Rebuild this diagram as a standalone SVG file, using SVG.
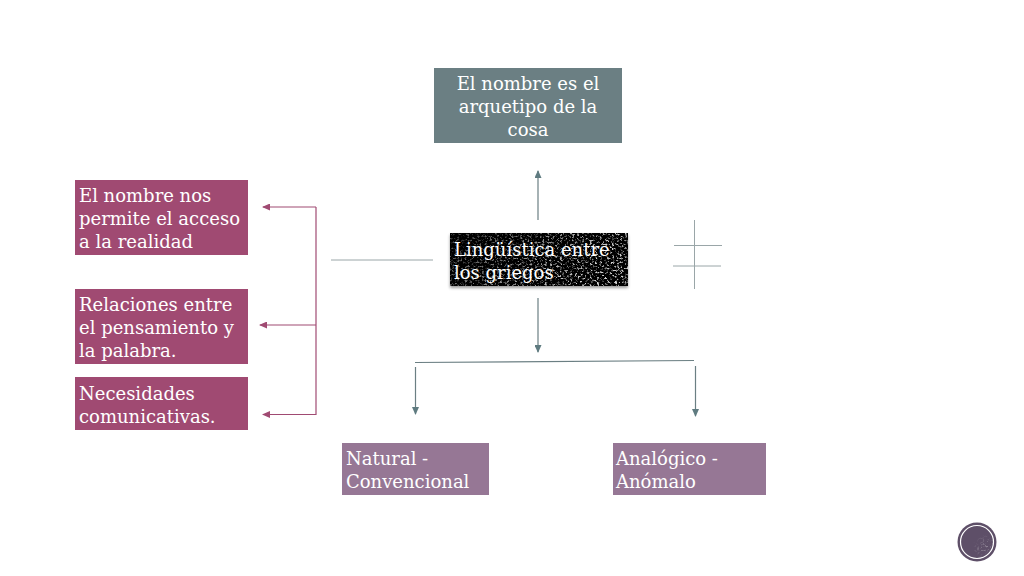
<svg xmlns="http://www.w3.org/2000/svg" width="1024" height="576" viewBox="0 0 1024 576">
<style>
text{font-family:"DejaVu Serif","Liberation Serif",serif;font-size:18px;fill:#fff}
.rose{fill:#a04a72}.mauve{fill:#967795}.slate{fill:#6b7f83}
.cr{stroke:#a04a72;stroke-width:1.2;fill:none}
.cs{stroke:#6b7f83;stroke-width:1.2;fill:none}
.cg{stroke:#9aa6a8;stroke-width:1;fill:none}
</style>
<defs>
<marker id="ar" markerWidth="8" markerHeight="7" refX="7" refY="3.5" orient="auto" markerUnits="userSpaceOnUse"><path d="M0 0L8 3.5L0 7z" fill="#a04a72"/></marker>
<marker id="as" markerWidth="8" markerHeight="7" refX="7" refY="3.5" orient="auto" markerUnits="userSpaceOnUse"><path d="M0 0L8 3.5L0 7z" fill="#5f7b80"/></marker>
<linearGradient id="fade" x1="0" y1="0" x2="1" y2="0.3"><stop offset="0" stop-color="#fff" stop-opacity="0.3"/><stop offset="0.5" stop-color="#fff" stop-opacity="0.6"/><stop offset="0.9" stop-color="#fff" stop-opacity="0.9"/></linearGradient>
<radialGradient id="spot" cx="0.75" cy="0.65" r="0.4"><stop offset="0" stop-color="#fff" stop-opacity="0.8"/><stop offset="1" stop-color="#fff" stop-opacity="0"/></radialGradient>
<filter id="speck" x="0" y="0" width="1" height="1">
<feTurbulence type="fractalNoise" baseFrequency="0.4 0.5" numOctaves="3" seed="7" result="n"/>
<feColorMatrix in="n" values="0 0 0 0 0.8  0 0 0 0 0.8  0 0 0 0 0.8  3.4 3.4 0 0 -3.45" result="w"/>
<feComposite in="w" in2="SourceAlpha" operator="in"/>
</filter>
<filter id="sh" x="-5%" y="-10%" width="110%" height="125%"><feDropShadow dx="0" dy="2" stdDeviation="1.5" flood-opacity="0.4"/></filter>
</defs>
<g id="connectors">
<path class="cs" d="M538 220V171" marker-end="url(#as)"/>
<path class="cs" d="M538 298V352" marker-end="url(#as)"/>
<path class="cs" d="M415.500 367V414" marker-end="url(#as)"/>
<path class="cs" d="M695.500 366V416" marker-end="url(#as)"/>
<path class="cs" d="M415 362.500L694 360.500"/>
<path class="cr" d="M316 207V415"/>
<path class="cr" d="M316 207H263" marker-end="url(#ar)"/>
<path class="cr" d="M316 325H260" marker-end="url(#ar)"/>
<path class="cr" d="M316 414.500H263" marker-end="url(#ar)"/>
<path class="cg" d="M331 260H433"/>
<path class="cg" d="M694.500 220V289M674 245.500H722M673 266H721"/>
</g>
<g id="n-arquetipo"><rect class="slate" x="434" y="68" width="188" height="75"/>
<text x="528" y="90" text-anchor="middle">El nombre es el</text><text x="528" y="113" text-anchor="middle">arquetipo de la</text><text x="528" y="136" text-anchor="middle">cosa</text></g>
<g id="n-linguistica"><rect x="450" y="233" width="178" height="53" fill="#000" filter="url(#sh)"/>
<rect x="450" y="233" width="178" height="53" fill="url(#fade)" filter="url(#speck)"/>
<text x="454" y="256">Lingüística entre</text><text x="454" y="279">los griegos</text></g>
<g id="n-acceso"><rect class="rose" x="75" y="180" width="173" height="75"/>
<text x="79" y="202">El nombre nos</text><text x="79" y="225">permite el acceso</text><text x="79" y="248">a la realidad</text></g>
<g id="n-relaciones"><rect class="rose" x="75" y="289" width="173" height="75"/>
<text x="79" y="311">Relaciones entre</text><text x="79" y="334">el pensamiento y</text><text x="79" y="357">la palabra.</text></g>
<g id="n-necesidades"><rect class="rose" x="75" y="377" width="173" height="53"/>
<text x="79" y="400">Necesidades</text><text x="79" y="423">comunicativas.</text></g>
<g id="n-natural"><rect class="mauve" x="342" y="443" width="147" height="52"/>
<text x="346" y="465">Natural -</text><text x="346" y="488">Convencional</text></g>
<g id="n-analogico"><rect class="mauve" x="613" y="443" width="153" height="52"/>
<text x="616" y="465">Analógico -</text><text x="616" y="488">Anómalo</text></g>
<g id="badge"><circle cx="977" cy="542" r="19.500" fill="#5e4f68"/><circle cx="977" cy="542" r="16" fill="url(#spot)" opacity="0.5" filter="url(#speck)"/><circle cx="977" cy="542" r="16.500" fill="none" stroke="#fff" stroke-width="1.2"/></g>
</svg>
